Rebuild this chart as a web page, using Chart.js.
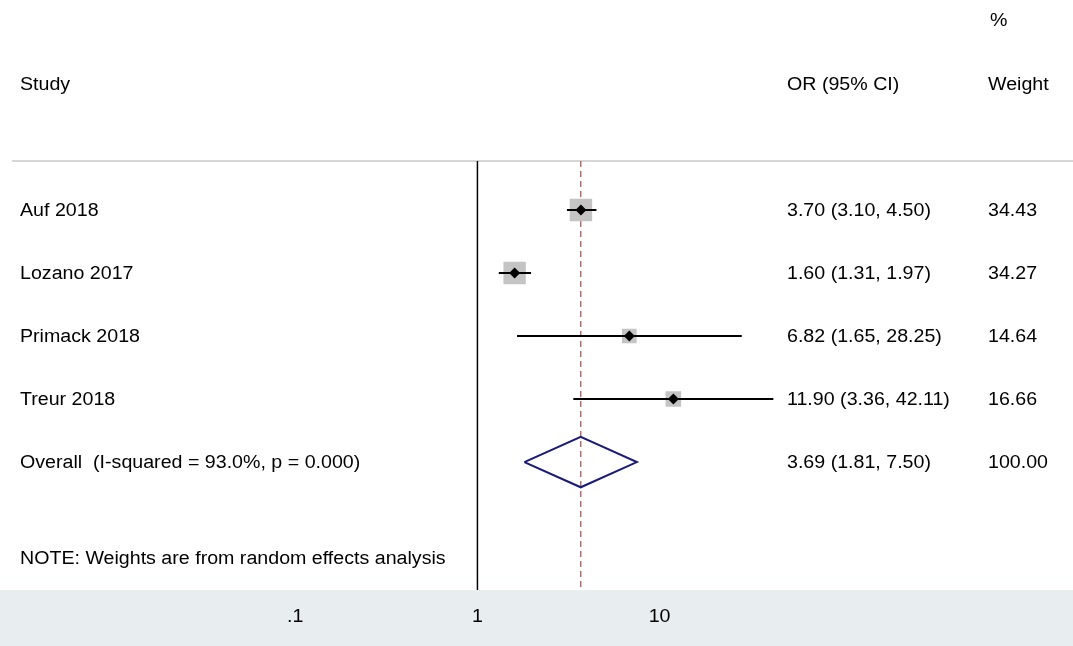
<!DOCTYPE html>
<html>
<head>
<meta charset="utf-8">
<script src="https://cdn.jsdelivr.net/npm/chart.js@4/dist/chart.umd.min.js"></script>
<style>
  html, body { margin: 0; padding: 0; background: #fff; overflow: hidden; }
  #wrap { width: 1073px; height: 646px; }
</style>
</head>
<body>
<div id="wrap"><canvas id="forest"></canvas></div>
<script>
// Study data
const studies = ['Auf 2018', 'Lozano 2017', 'Primack 2018', 'Treur 2018'];
const orValues = [3.70, 1.60, 6.82, 11.90];
const lowerCI = [3.10, 1.31, 1.65, 3.36];
const upperCI = [4.50, 1.97, 28.25, 42.11];
const weights = [34.43, 34.27, 14.64, 16.66];
const overallLabel = 'Overall  (I-squared = 93.0%, p = 0.000)';
const overall = [3.69, 1.81, 7.50];
const tickValues = [0.1, 1, 10];
const tickLabels = ['.1', '1', '10'];

const FONT = '18px "Liberation Sans", Arial, sans-serif';
const STRETCH = 1.09;
const fmt = v => v.toFixed(2);

const datasets = [];

// CI lines
studies.forEach((s, i) => {
    datasets.push({
        type: 'line', order: 3,
        data: [{ x: lowerCI[i], y: i }, { x: upperCI[i], y: i }],
        borderColor: '#000', borderWidth: 2, pointRadius: 0
    });
});

// weight boxes
datasets.push({
    type: 'scatter', order: 4,
    data: studies.map((s, i) => ({ x: orValues[i], y: i })),
    pointStyle: 'rect',
    pointRadius: weights.map(w => Math.sqrt(w) * 2.7),
    backgroundColor: '#c4c4c4', borderWidth: 0
});

// point estimates
datasets.push({
    type: 'scatter', order: 1,
    data: studies.map((s, i) => ({ x: orValues[i], y: i })),
    pointStyle: 'rectRot', pointRadius: 5.5,
    backgroundColor: '#000', borderWidth: 0
});

// overall diamond
datasets.push({
    type: 'line', order: 2,
    data: [
        { x: overall[1], y: 4 }, { x: overall[0], y: 3.6 },
        { x: overall[2], y: 4 }, { x: overall[0], y: 4.4 },
        { x: overall[1], y: 4 }
    ],
    borderColor: '#1a1a7a', borderWidth: 2, pointRadius: 0, tension: 0
});

// null line and overall dashed line
datasets.push({
    type: 'line', order: 5,
    data: [{ x: 1, y: -0.778 }, { x: 1, y: 6.03 }],
    borderColor: '#000', borderWidth: 1.5, pointRadius: 0
});
datasets.push({
    type: 'line', order: 6,
    data: [{ x: overall[0], y: -0.778 }, { x: overall[0], y: 6.03 }],
    borderColor: '#b86a6a', borderWidth: 1.5, borderDash: [6, 4], pointRadius: 0
});

function text(ctx, str, x, y, align) {
    ctx.save();
    ctx.translate(x, y);
    ctx.scale(STRETCH, 1);
    ctx.textAlign = align || 'left';
    ctx.fillText(str, 0, 0);
    ctx.restore();
}

const textPlugin = {
    id: 'forestText',
    beforeDraw(chart) {
        const { ctx, chartArea } = chart;
        ctx.save();
        ctx.fillStyle = '#e8eef0';
        ctx.fillRect(0, chartArea.bottom, chart.width, chart.height - chartArea.bottom);
        ctx.strokeStyle = '#c8c8c8';
        ctx.lineWidth = 1.5;
        ctx.beginPath();
        ctx.moveTo(12, chartArea.top);
        ctx.lineTo(chart.width, chartArea.top);
        ctx.stroke();
        ctx.restore();
    },
    afterDraw(chart) {
        const { ctx, scales } = chart;
        const xs = scales.x, ys = scales.y;
        ctx.save();
        ctx.font = FONT;
        ctx.fillStyle = '#000';
        ctx.textBaseline = 'middle';
        text(ctx, '%', 990, 21);
        text(ctx, 'Study', 20, 85);
        text(ctx, 'OR (95% CI)', 787, 85);
        text(ctx, 'Weight', 988, 85);
        studies.forEach((s, i) => {
            const y = ys.getPixelForValue(i) + 1;
            text(ctx, s, 20, y);
            text(ctx, fmt(orValues[i]) + ' (' + fmt(lowerCI[i]) + ', ' + fmt(upperCI[i]) + ')', 787, y);
            text(ctx, fmt(weights[i]), 988, y);
        });
        const yo = ys.getPixelForValue(4) + 1;
        text(ctx, overallLabel, 20, yo);
        text(ctx, fmt(overall[0]) + ' (' + fmt(overall[1]) + ', ' + fmt(overall[2]) + ')', 787, yo);
        text(ctx, '100.00', 988, yo);
        text(ctx, 'NOTE: Weights are from random effects analysis', 20, ys.getPixelForValue(5.52) + 1);
        tickValues.forEach((v, i) => {
            text(ctx, tickLabels[i], xs.getPixelForValue(v), 617, 'center');
        });
        ctx.restore();
    }
};

new Chart(document.getElementById('forest'), {
    data: { datasets },
    options: {
        responsive: true,
        maintainAspectRatio: false,
        animation: false,
        layout: { padding: { left: 12, right: 0, top: 161, bottom: 56 } },
        plugins: { legend: { display: false }, tooltip: { enabled: false } },
        scales: {
            x: {
                type: 'logarithmic',
                min: Math.pow(10, (12 - 477) / 183.5),
                max: Math.pow(10, (1061 - 477) / 183.5),
                display: false
            },
            y: {
                type: 'linear', reverse: true,
                min: -0.778, max: 6.03,
                display: false
            }
        }
    },
    plugins: [textPlugin]
});
</script>
</body>
</html>
